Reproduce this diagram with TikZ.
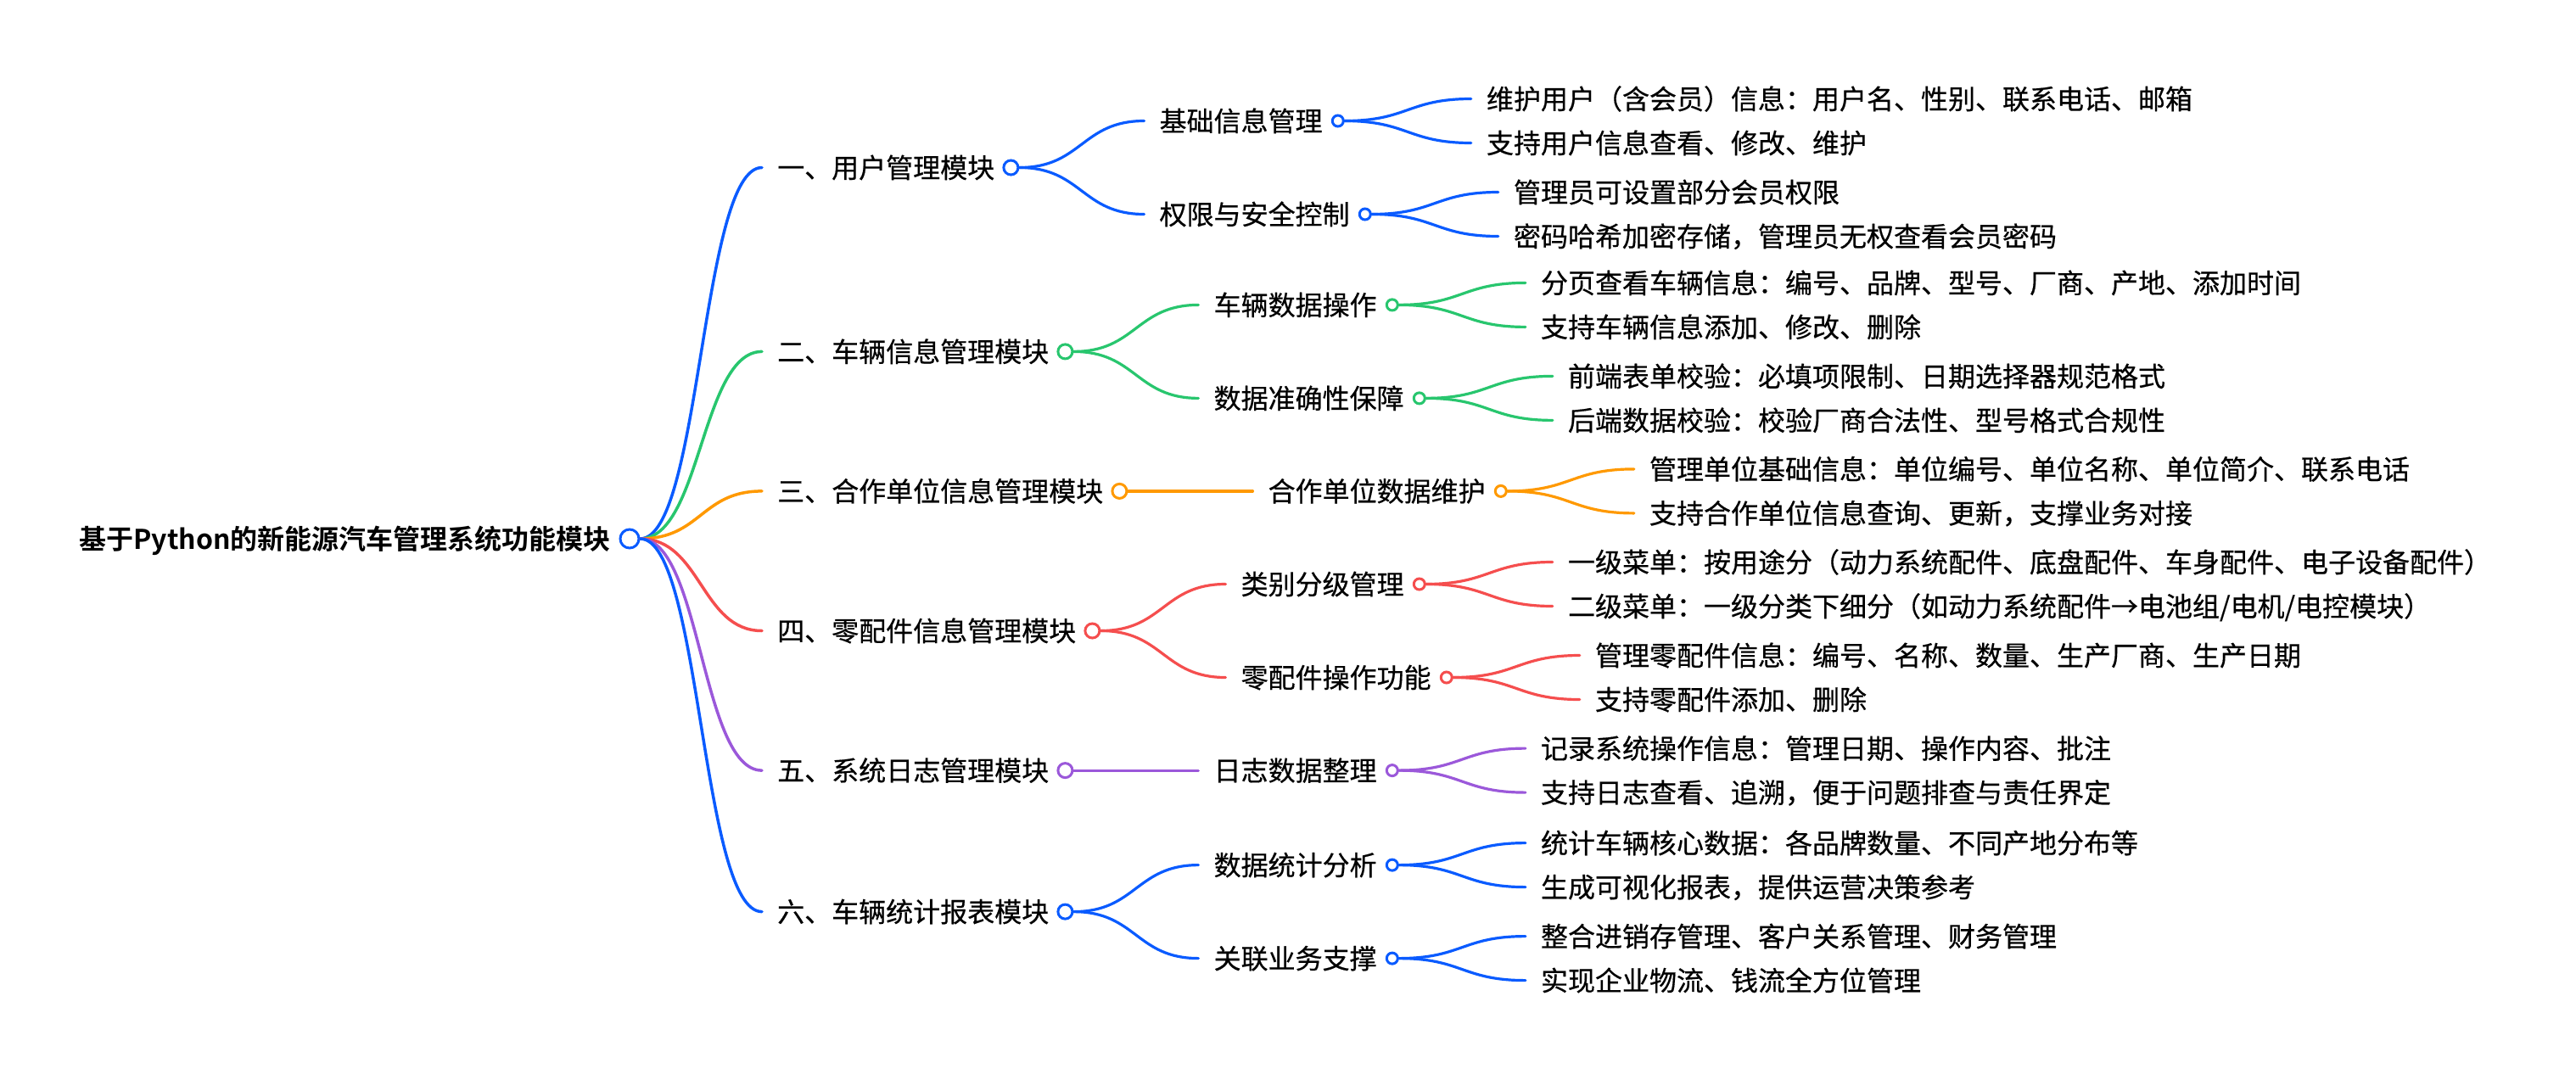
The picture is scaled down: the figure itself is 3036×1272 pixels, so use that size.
\documentclass[tikz,border=0pt]{standalone}
\usepackage{fontspec}
\setmainfont{Noto Sans CJK SC}[BoldFont={Noto Sans CJK SC Bold}]
\newfontfamily\cjkreg{Noto Sans CJK SC}[FakeBold=0.5]
\usetikzlibrary{calc}
\definecolor{cblue}{RGB}{10,91,255}
\definecolor{cgreen}{RGB}{40,198,110}
\definecolor{corange}{RGB}{255,153,0}
\definecolor{cred}{RGB}{245,78,78}
\definecolor{cpurple}{RGB}{155,88,218}
\tikzset{
  txt/.style={anchor=west, inner sep=0pt, text height=26.9pt, text depth=2.6pt,
    font=\cjkreg\fontsize{32pt}{38pt}\selectfont, text=black},
  roottxt/.style={anchor=east, inner sep=0pt, text height=26.9pt, text depth=2.6pt,
    font=\fontsize{32pt}{38pt}\selectfont\bfseries, text=black},
  dot/.style={circle, draw, fill=white, inner sep=0pt, line width=3pt},
  dotroot/.style={dot, minimum size=22pt},
  dotone/.style={dot, minimum size=17pt},
  dottwo/.style={dot, minimum size=13pt},
  link/.style={line width=3.2pt, line cap=round},
  rootlink/.style={line width=3.5pt, line cap=round}
}
\newcommand\mmlink[4][link]{%
  \draw[#1,#2] let \p1=(#3), \p2=(#4) in
    (\p1) .. controls ({0.5*\x1+0.5*\x2},\y1) and ({0.5*\x1+0.5*\x2},\y2) .. (\p2);}
\begin{document}
\begin{tikzpicture}[x=1pt,y=-1pt]
\fill[white] (0,0) rectangle (3036,1272);
\useasboundingbox (0,0) rectangle (3036,1272);

% root
\node[roottxt] (root) at (720,635) {基于Python的新能源汽车管理系统功能模块};
\node[dotroot, draw=cblue] (rc) at ([xshift=22pt]root.east) {};

% level 1
\node[txt] (a1) at (916,197.5) {一、用户管理模块};
\node[txt] (a2) at (916,414.4) {二、车辆信息管理模块};
\node[txt] (a3) at (916,578.9) {三、合作单位信息管理模块};
\node[txt] (a4) at (916,743.5) {四、零配件信息管理模块};
\node[txt] (a5) at (916,908.1) {五、系统日志管理模块};
\node[txt] (a6) at (916,1074.6) {六、车辆统计报表模块};
\node[dotone, draw=cblue]   (a1c) at ([xshift=19pt]a1.east) {};
\node[dotone, draw=cgreen]  (a2c) at ([xshift=19pt]a2.east) {};
\node[dotone, draw=corange] (a3c) at ([xshift=19pt]a3.east) {};
\node[dotone, draw=cred]    (a4c) at ([xshift=19pt]a4.east) {};
\node[dotone, draw=cpurple] (a5c) at ([xshift=19pt]a5.east) {};
\node[dotone, draw=cblue]   (a6c) at ([xshift=19pt]a6.east) {};

% level 2
\node[txt] (b11) at ([shift={(175,-55)}]a1c.center) {基础信息管理};
\node[txt] (b12) at ([shift={(175,55)}]a1c.center) {权限与安全控制};
\node[txt] (b21) at ([shift={(175,-55)}]a2c.center) {车辆数据操作};
\node[txt] (b22) at ([shift={(175,55)}]a2c.center) {数据准确性保障};
\node[txt] (b31) at ([shift={(175,0)}]a3c.center) {合作单位数据维护};
\node[txt] (b41) at ([shift={(175,-55)}]a4c.center) {类别分级管理};
\node[txt] (b42) at ([shift={(175,55)}]a4c.center) {零配件操作功能};
\node[txt] (b51) at ([shift={(175,0)}]a5c.center) {日志数据整理};
\node[txt] (b61) at ([shift={(175,-55)}]a6c.center) {数据统计分析};
\node[txt] (b62) at ([shift={(175,55)}]a6c.center) {关联业务支撑};
\node[dottwo, draw=cblue]   (b11c) at ([xshift=18pt]b11.east) {};
\node[dottwo, draw=cblue]   (b12c) at ([xshift=18pt]b12.east) {};
\node[dottwo, draw=cgreen]  (b21c) at ([xshift=18pt]b21.east) {};
\node[dottwo, draw=cgreen]  (b22c) at ([xshift=18pt]b22.east) {};
\node[dottwo, draw=corange] (b31c) at ([xshift=18pt]b31.east) {};
\node[dottwo, draw=cred]    (b41c) at ([xshift=18pt]b41.east) {};
\node[dottwo, draw=cred]    (b42c) at ([xshift=18pt]b42.east) {};
\node[dottwo, draw=cpurple] (b51c) at ([xshift=18pt]b51.east) {};
\node[dottwo, draw=cblue]   (b61c) at ([xshift=18pt]b61.east) {};
\node[dottwo, draw=cblue]   (b62c) at ([xshift=18pt]b62.east) {};

% leaves
\node[txt] (l111) at ([shift={(175,-26)}]b11c.center) {维护用户（含会员）信息：用户名、性别、联系电话、邮箱};
\node[txt] (l112) at ([shift={(175,26)}]b11c.center) {支持用户信息查看、修改、维护};
\node[txt] (l121) at ([shift={(175,-26)}]b12c.center) {管理员可设置部分会员权限};
\node[txt] (l122) at ([shift={(175,26)}]b12c.center) {密码哈希加密存储，管理员无权查看会员密码};
\node[txt] (l211) at ([shift={(175,-26)}]b21c.center) {分页查看车辆信息：编号、品牌、型号、厂商、产地、添加时间};
\node[txt] (l212) at ([shift={(175,26)}]b21c.center) {支持车辆信息添加、修改、删除};
\node[txt] (l221) at ([shift={(175,-26)}]b22c.center) {前端表单校验：必填项限制、日期选择器规范格式};
\node[txt] (l222) at ([shift={(175,26)}]b22c.center) {后端数据校验：校验厂商合法性、型号格式合规性};
\node[txt] (l311) at ([shift={(175,-26)}]b31c.center) {管理单位基础信息：单位编号、单位名称、单位简介、联系电话};
\node[txt] (l312) at ([shift={(175,26)}]b31c.center) {支持合作单位信息查询、更新，支撑业务对接};
\node[txt] (l411) at ([shift={(175,-26)}]b41c.center) {一级菜单：按用途分（动力系统配件、底盘配件、车身配件、电子设备配件）};
\node[txt] (l412) at ([shift={(175,26)}]b41c.center) {二级菜单：一级分类下细分（如动力系统配件→电池组/电机/电控模块）};
\node[txt] (l421) at ([shift={(175,-26)}]b42c.center) {管理零配件信息：编号、名称、数量、生产厂商、生产日期};
\node[txt] (l422) at ([shift={(175,26)}]b42c.center) {支持零配件添加、删除};
\node[txt] (l511) at ([shift={(175,-26)}]b51c.center) {记录系统操作信息：管理日期、操作内容、批注};
\node[txt] (l512) at ([shift={(175,26)}]b51c.center) {支持日志查看、追溯，便于问题排查与责任界定};
\node[txt] (l611) at ([shift={(175,-26)}]b61c.center) {统计车辆核心数据：各品牌数量、不同产地分布等};
\node[txt] (l612) at ([shift={(175,26)}]b61c.center) {生成可视化报表，提供运营决策参考};
\node[txt] (l621) at ([shift={(175,-26)}]b62c.center) {整合进销存管理、客户关系管理、财务管理};
\node[txt] (l622) at ([shift={(175,26)}]b62c.center) {实现企业物流、钱流全方位管理};

% root links
\mmlink[rootlink]{cblue}{rc.east}{[xshift=-18pt]a1.west}
\mmlink[rootlink]{cgreen}{rc.east}{[xshift=-18pt]a2.west}
\mmlink[rootlink]{corange}{rc.east}{[xshift=-18pt]a3.west}
\mmlink[rootlink]{cred}{rc.east}{[xshift=-18pt]a4.west}
\mmlink[rootlink]{cpurple}{rc.east}{[xshift=-18pt]a5.west}
\mmlink[rootlink]{cblue}{rc.east}{[xshift=-18pt]a6.west}

% level 1 -> level 2
\mmlink{cblue}{a1c.east}{[xshift=-18pt]b11.west}
\mmlink{cblue}{a1c.east}{[xshift=-18pt]b12.west}
\mmlink{cgreen}{a2c.east}{[xshift=-18pt]b21.west}
\mmlink{cgreen}{a2c.east}{[xshift=-18pt]b22.west}
\mmlink{corange}{a3c.east}{[xshift=-18pt]b31.west}
\mmlink{cred}{a4c.east}{[xshift=-18pt]b41.west}
\mmlink{cred}{a4c.east}{[xshift=-18pt]b42.west}
\mmlink{cpurple}{a5c.east}{[xshift=-18pt]b51.west}
\mmlink{cblue}{a6c.east}{[xshift=-18pt]b61.west}
\mmlink{cblue}{a6c.east}{[xshift=-18pt]b62.west}

% level 2 -> leaves
\mmlink{cblue}{b11c.east}{[xshift=-18pt]l111.west}
\mmlink{cblue}{b11c.east}{[xshift=-18pt]l112.west}
\mmlink{cblue}{b12c.east}{[xshift=-18pt]l121.west}
\mmlink{cblue}{b12c.east}{[xshift=-18pt]l122.west}
\mmlink{cgreen}{b21c.east}{[xshift=-18pt]l211.west}
\mmlink{cgreen}{b21c.east}{[xshift=-18pt]l212.west}
\mmlink{cgreen}{b22c.east}{[xshift=-18pt]l221.west}
\mmlink{cgreen}{b22c.east}{[xshift=-18pt]l222.west}
\mmlink{corange}{b31c.east}{[xshift=-18pt]l311.west}
\mmlink{corange}{b31c.east}{[xshift=-18pt]l312.west}
\mmlink{cred}{b41c.east}{[xshift=-18pt]l411.west}
\mmlink{cred}{b41c.east}{[xshift=-18pt]l412.west}
\mmlink{cred}{b42c.east}{[xshift=-18pt]l421.west}
\mmlink{cred}{b42c.east}{[xshift=-18pt]l422.west}
\mmlink{cpurple}{b51c.east}{[xshift=-18pt]l511.west}
\mmlink{cpurple}{b51c.east}{[xshift=-18pt]l512.west}
\mmlink{cblue}{b61c.east}{[xshift=-18pt]l611.west}
\mmlink{cblue}{b61c.east}{[xshift=-18pt]l612.west}
\mmlink{cblue}{b62c.east}{[xshift=-18pt]l621.west}
\mmlink{cblue}{b62c.east}{[xshift=-18pt]l622.west}
\end{tikzpicture}
\end{document}
